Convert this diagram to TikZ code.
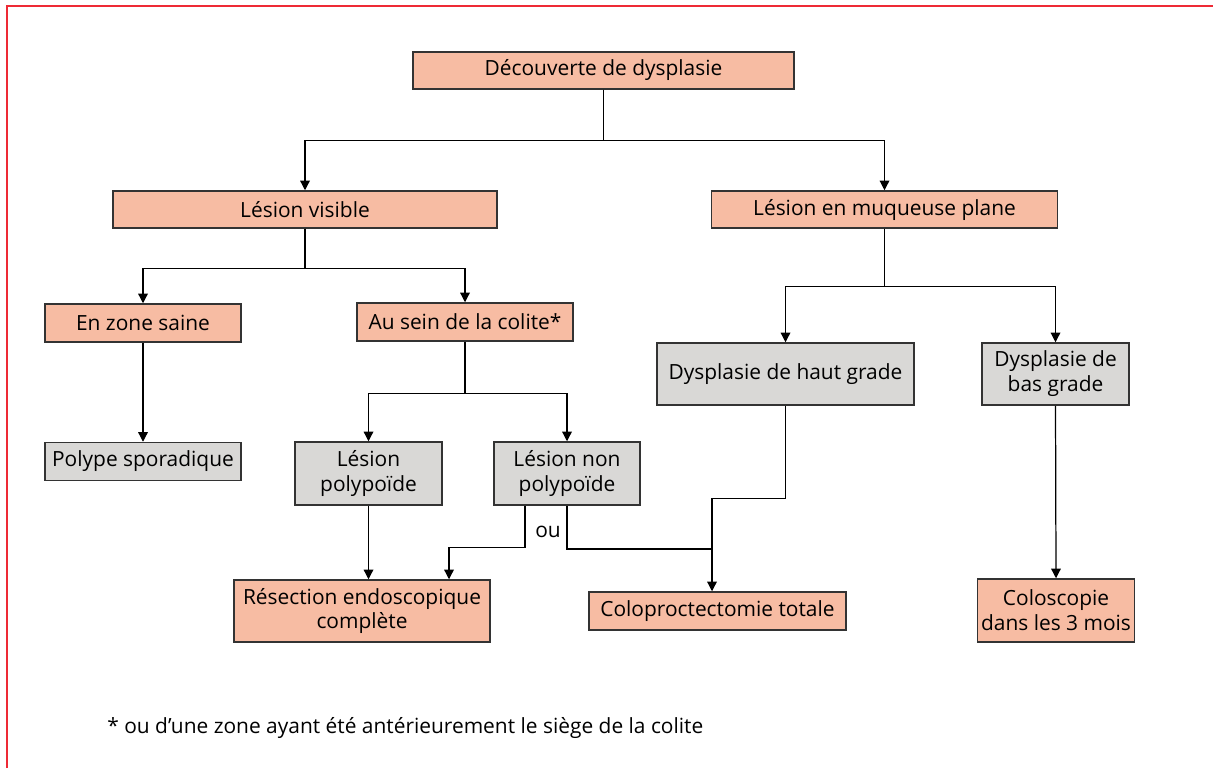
\documentclass[tikz,border=0pt]{standalone}
\usepackage{fontspec}
\setmainfont{Open Sans}
\usepackage{tikz}
\usetikzlibrary{arrows.meta}
\usetikzlibrary{calc}
\definecolor{saumon}{HTML}{F7BCA3}
\definecolor{grisclair}{HTML}{D9D8D6}
\definecolor{cadre}{HTML}{EE2A35}

\begin{document}
\begin{tikzpicture}[x=1cm,y=-1cm,
  font=\fontsize{11.9pt}{14.2pt}\selectfont,
  boite/.style={draw=black!80,line width=0.85pt,align=center,inner sep=2pt},
  rose/.style={boite,fill=saumon},
  gris/.style={boite,fill=grisclair},
  fl/.style={line width=0.7pt,-{Triangle[length=5.5pt,width=5.5pt]}},
  tr/.style={line width=0.7pt}]
\useasboundingbox (0,0) rectangle (24.26,15.36);
\draw[cadre,line width=1pt] (0.14,15.36) -- (0.14,0.12) -- (24.26,0.12);
% premier niveau
\draw (12.07,1.41) node (dec) [rose,minimum width=7.62cm,minimum height=0.74cm] {Découverte de dysplasie};
\draw (6.10,4.19) node (vis) [rose,minimum width=7.68cm,minimum height=0.74cm] {Lésion visible};
\draw (17.69,4.19) node (plane) [rose,minimum width=6.92cm,minimum height=0.74cm] {Lésion en muqueuse plane};
% lesion visible
\draw (2.86,6.46) node (saine) [rose,minimum width=3.92cm,minimum height=0.76cm] {En zone saine};
\draw (9.30,6.44) node (colite) [rose,minimum width=4.32cm,minimum height=0.76cm] {Au sein de la colite*};
\draw (2.86,9.23) node (sporad) [gris,minimum width=3.92cm,minimum height=0.76cm] {Polype sporadique};
\draw (7.37,9.47) node (polyp) [gris,minimum width=2.94cm,minimum height=1.26cm] {Lésion\\polypoïde};
\draw (11.34,9.47) node (nonpolyp) [gris,minimum width=2.92cm,minimum height=1.26cm] {Lésion non\\polypoïde};
\draw (7.24,12.22) node (resec) [rose,minimum width=5.12cm,minimum height=1.24cm] {Résection endoscopique\\complète};
% muqueuse plane
\draw (15.71,7.48) node (haut) [gris,minimum width=5.14cm,minimum height=1.24cm] {Dysplasie de haut grade};
\draw (21.11,7.48) node (bas) [gris,minimum width=2.94cm,minimum height=1.24cm] {Dysplasie de\\bas grade};
\draw (14.35,12.22) node (colo) [rose,minimum width=5.14cm,minimum height=0.76cm] {Coloproctectomie totale};
\draw (21.12,12.21) node (colosc) [rose,minimum width=2.98cm,minimum height=1.26cm] {Coloscopie\\dans les 3 mois};
\draw (10.96,10.64) node (ou) {ou};
\draw (2.14,14.66) node (note) [anchor=base west,inner sep=0pt] {* ou d’une zone ayant été antérieurement le siège de la colite};
% fleches
\draw[fl] (dec.south) -- ++(0,1.02) -| (vis.north);
\draw[fl] (dec.south) -- ++(0,1.02) -| (plane.north);
\draw[fl] (vis.south) -- ++(0,0.80) -| (saine.north);
\draw[fl] (vis.south) -- ++(0,0.80) -| (colite.north);
\draw[fl] (saine.south) -- (sporad.north);
\draw[fl] (colite.south) -- ++(0,1.04) -| (polyp.north);
\draw[fl] (colite.south) -- ++(0,1.04) -| (nonpolyp.north);
\draw[fl] (polyp.south) -- (polyp.south |- resec.north);
\draw[fl] ($(nonpolyp.south)+(-0.84,0)$) -- ++(0,0.84) -| ($(resec.north)+(1.74,0)$);
\coordinate (jonction) at (14.24,10.98);
\draw[tr] (nonpolyp.south) |- (jonction);
\draw[fl] (haut.south) -- ++(0,1.86) -| (jonction) -- (jonction |- colo.north);
\draw[fl] (plane.south) -- ++(0,1.16) -| (haut.north);
\draw[fl] (plane.south) -- ++(0,1.16) -| (bas.north);
\draw[fl] (bas.south) -- (colosc.north);
\end{tikzpicture}
\end{document}
